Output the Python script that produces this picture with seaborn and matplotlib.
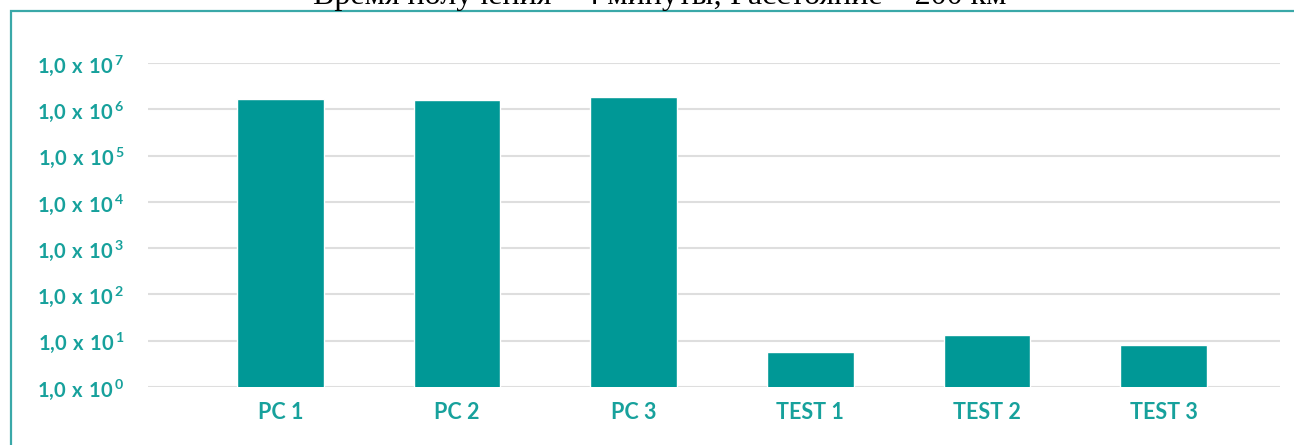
import matplotlib
matplotlib.use("Agg")
import matplotlib.pyplot as plt
import matplotlib.patches as mpatches
import pandas as pd
import seaborn as sns

# data (log scale, base 10)
samples = ["PC 1", "PC 2", "PC 3", "TEST 1", "TEST 2", "TEST 3"]
counts = [1.7e6, 1.55e6, 1.8e6, 5.7, 13.0, 8.0]
decades = [0, 1, 2, 3, 4, 5, 6, 7]
title_text = "Время получения – 4 минуты; Расстояние – 200 км"

TEAL = "#009896"
LABEL = "#17a19c"

sns.set_theme(style="white")
plt.rcParams["font.family"] = ["Lato", "DejaVu Sans"]
plt.rcParams["mathtext.fontset"] = "custom"
plt.rcParams["mathtext.rm"] = "Lato"
plt.rcParams["mathtext.bf"] = "Lato:bold"

df = pd.DataFrame({"sample": samples, "count": counts})

fig = plt.figure(figsize=(12.94, 4.45), dpi=100)
ax = fig.add_axes([148 / 1294, 1 - 387 / 445, (1280 - 148) / 1294, (387 - 63) / 445])

ax.set_yscale("log")
sns.barplot(data=df, x="sample", y="count", color=TEAL, saturation=1,
            width=0.49, ax=ax, zorder=3)

ax.set_ylim(1, 1e7)
ax.set_xlim(-0.75, 5.66)
ax.set_yticks([10.0 ** d for d in decades])
ax.set_yticklabels([r"$\mathbf{1{,}0\ x\ 10^{\,%d}}$" % d for d in decades],
                   fontsize=14.5, color=LABEL)
ax.yaxis.set_minor_locator(matplotlib.ticker.NullLocator())
ax.tick_params(axis="y", length=0, pad=17)
ax.tick_params(axis="x", length=0, pad=11)
for lbl in ax.get_xticklabels():
    lbl.set_fontsize(15.5)
    lbl.set_fontweight("bold")
    lbl.set_color(LABEL)

ax.grid(axis="y", color="#dedede", linewidth=1.5, zorder=0)
ax.grid(axis="x", visible=False)
for s in ax.spines.values():
    s.set_visible(False)
ax.set_xlabel("")
ax.set_ylabel("")

# outer frame (top and left edges only visible)
fig.add_artist(mpatches.Rectangle((11 / 1294, -0.1), 1.2, 1.1 - 11 / 445,
                                  transform=fig.transFigure, fill=False,
                                  edgecolor="#3aa8a8", linewidth=1.6))

# clipped title at the very top
fig.text(0.51, 1 - 4 / 445, title_text, ha="center", va="baseline",
         fontsize=23, family=["Liberation Serif", "DejaVu Serif"], color="black")

fig.savefig("out.png", dpi=100)
